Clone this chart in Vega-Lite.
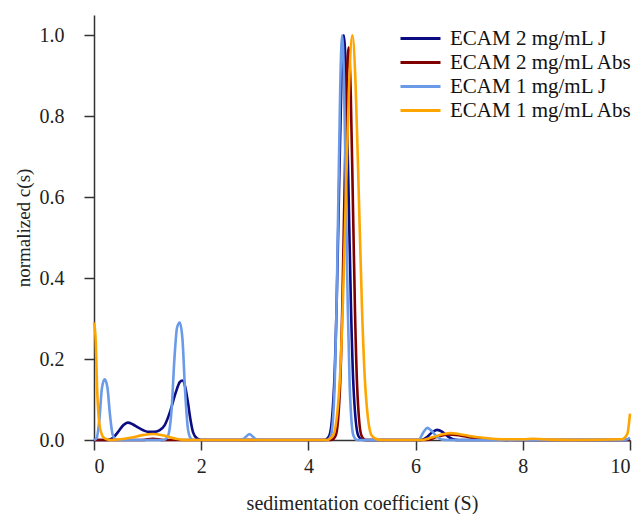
{
  "$schema": "https://vega.github.io/schema/vega-lite/v6.json",
  "autosize": "none",
  "width": 536,
  "height": 425,
  "padding": {"left": 94, "top": 15, "right": 8, "bottom": 74},
  "background": "white",
  "config": {
    "view": {"stroke": null},
    "font": "Liberation Serif"
  },
  "data": {"values": [
    {"s":0,"c":0,"k":"ECAM 2 mg/mL J"},{"s":0.25,"c":0,"k":"ECAM 2 mg/mL J"},{"s":0.35,"c":0.005,"k":"ECAM 2 mg/mL J"},{"s":0.45,"c":0.02,"k":"ECAM 2 mg/mL J"},{"s":0.55,"c":0.037,"k":"ECAM 2 mg/mL J"},{"s":0.63,"c":0.043,"k":"ECAM 2 mg/mL J"},{"s":0.72,"c":0.039,"k":"ECAM 2 mg/mL J"},{"s":0.82,"c":0.031,"k":"ECAM 2 mg/mL J"},{"s":0.92,"c":0.024,"k":"ECAM 2 mg/mL J"},{"s":1.02,"c":0.02,"k":"ECAM 2 mg/mL J"},{"s":1.12,"c":0.02,"k":"ECAM 2 mg/mL J"},{"s":1.22,"c":0.024,"k":"ECAM 2 mg/mL J"},{"s":1.32,"c":0.037,"k":"ECAM 2 mg/mL J"},{"s":1.42,"c":0.07,"k":"ECAM 2 mg/mL J"},{"s":1.52,"c":0.115,"k":"ECAM 2 mg/mL J"},{"s":1.6,"c":0.143,"k":"ECAM 2 mg/mL J"},{"s":1.65,"c":0.147,"k":"ECAM 2 mg/mL J"},{"s":1.7,"c":0.132,"k":"ECAM 2 mg/mL J"},{"s":1.75,"c":0.095,"k":"ECAM 2 mg/mL J"},{"s":1.8,"c":0.05,"k":"ECAM 2 mg/mL J"},{"s":1.85,"c":0.018,"k":"ECAM 2 mg/mL J"},{"s":1.92,"c":0.004,"k":"ECAM 2 mg/mL J"},{"s":2.0,"c":0,"k":"ECAM 2 mg/mL J"},{"s":4.3,"c":0,"k":"ECAM 2 mg/mL J"},{"s":4.39,"c":0.011,"k":"ECAM 2 mg/mL J"},{"s":4.48,"c":0.135,"k":"ECAM 2 mg/mL J"},{"s":4.525,"c":0.325,"k":"ECAM 2 mg/mL J"},{"s":4.57,"c":0.607,"k":"ECAM 2 mg/mL J"},{"s":4.615,"c":0.88,"k":"ECAM 2 mg/mL J"},{"s":4.66,"c":1.0,"k":"ECAM 2 mg/mL J"},{"s":4.705,"c":0.88,"k":"ECAM 2 mg/mL J"},{"s":4.75,"c":0.607,"k":"ECAM 2 mg/mL J"},{"s":4.795,"c":0.325,"k":"ECAM 2 mg/mL J"},{"s":4.84,"c":0.135,"k":"ECAM 2 mg/mL J"},{"s":4.93,"c":0.011,"k":"ECAM 2 mg/mL J"},{"s":5.02,"c":0,"k":"ECAM 2 mg/mL J"},{"s":6.1,"c":0,"k":"ECAM 2 mg/mL J"},{"s":6.2,"c":0.006,"k":"ECAM 2 mg/mL J"},{"s":6.3,"c":0.018,"k":"ECAM 2 mg/mL J"},{"s":6.4,"c":0.025,"k":"ECAM 2 mg/mL J"},{"s":6.5,"c":0.02,"k":"ECAM 2 mg/mL J"},{"s":6.6,"c":0.009,"k":"ECAM 2 mg/mL J"},{"s":6.7,"c":0.002,"k":"ECAM 2 mg/mL J"},{"s":6.8,"c":0,"k":"ECAM 2 mg/mL J"},{"s":10,"c":0,"k":"ECAM 2 mg/mL J"},

    {"s":0,"c":0,"k":"ECAM 2 mg/mL Abs"},{"s":0.9,"c":0,"k":"ECAM 2 mg/mL Abs"},{"s":1.1,"c":0.003,"k":"ECAM 2 mg/mL Abs"},{"s":1.3,"c":0,"k":"ECAM 2 mg/mL Abs"},{"s":4.43,"c":0,"k":"ECAM 2 mg/mL Abs"},{"s":4.51,"c":0.011,"k":"ECAM 2 mg/mL Abs"},{"s":4.59,"c":0.131,"k":"ECAM 2 mg/mL Abs"},{"s":4.63,"c":0.315,"k":"ECAM 2 mg/mL Abs"},{"s":4.67,"c":0.588,"k":"ECAM 2 mg/mL Abs"},{"s":4.71,"c":0.856,"k":"ECAM 2 mg/mL Abs"},{"s":4.75,"c":0.97,"k":"ECAM 2 mg/mL Abs"},{"s":4.79,"c":0.856,"k":"ECAM 2 mg/mL Abs"},{"s":4.83,"c":0.588,"k":"ECAM 2 mg/mL Abs"},{"s":4.87,"c":0.315,"k":"ECAM 2 mg/mL Abs"},{"s":4.91,"c":0.131,"k":"ECAM 2 mg/mL Abs"},{"s":4.99,"c":0.011,"k":"ECAM 2 mg/mL Abs"},{"s":5.07,"c":0,"k":"ECAM 2 mg/mL Abs"},{"s":6.2,"c":0,"k":"ECAM 2 mg/mL Abs"},{"s":6.4,"c":0.008,"k":"ECAM 2 mg/mL Abs"},{"s":6.6,"c":0.014,"k":"ECAM 2 mg/mL Abs"},{"s":6.8,"c":0.012,"k":"ECAM 2 mg/mL Abs"},{"s":7.0,"c":0.007,"k":"ECAM 2 mg/mL Abs"},{"s":7.3,"c":0.003,"k":"ECAM 2 mg/mL Abs"},{"s":7.6,"c":0.001,"k":"ECAM 2 mg/mL Abs"},{"s":8.0,"c":0,"k":"ECAM 2 mg/mL Abs"},{"s":10,"c":0,"k":"ECAM 2 mg/mL Abs"},

    {"s":0,"c":0,"k":"ECAM 1 mg/mL J"},{"s":0.05,"c":0.005,"k":"ECAM 1 mg/mL J"},{"s":0.1,"c":0.05,"k":"ECAM 1 mg/mL J"},{"s":0.15,"c":0.13,"k":"ECAM 1 mg/mL J"},{"s":0.2,"c":0.15,"k":"ECAM 1 mg/mL J"},{"s":0.25,"c":0.13,"k":"ECAM 1 mg/mL J"},{"s":0.3,"c":0.06,"k":"ECAM 1 mg/mL J"},{"s":0.35,"c":0.012,"k":"ECAM 1 mg/mL J"},{"s":0.42,"c":0,"k":"ECAM 1 mg/mL J"},{"s":1.3,"c":0,"k":"ECAM 1 mg/mL J"},{"s":1.38,"c":0.01,"k":"ECAM 1 mg/mL J"},{"s":1.45,"c":0.08,"k":"ECAM 1 mg/mL J"},{"s":1.5,"c":0.2,"k":"ECAM 1 mg/mL J"},{"s":1.55,"c":0.278,"k":"ECAM 1 mg/mL J"},{"s":1.6,"c":0.29,"k":"ECAM 1 mg/mL J"},{"s":1.65,"c":0.25,"k":"ECAM 1 mg/mL J"},{"s":1.7,"c":0.12,"k":"ECAM 1 mg/mL J"},{"s":1.75,"c":0.03,"k":"ECAM 1 mg/mL J"},{"s":1.8,"c":0.005,"k":"ECAM 1 mg/mL J"},{"s":1.86,"c":0,"k":"ECAM 1 mg/mL J"},{"s":2.75,"c":0,"k":"ECAM 1 mg/mL J"},{"s":2.85,"c":0.01,"k":"ECAM 1 mg/mL J"},{"s":2.9,"c":0.015,"k":"ECAM 1 mg/mL J"},{"s":2.95,"c":0.01,"k":"ECAM 1 mg/mL J"},{"s":3.05,"c":0,"k":"ECAM 1 mg/mL J"},{"s":4.35,"c":0,"k":"ECAM 1 mg/mL J"},{"s":4.42,"c":0.011,"k":"ECAM 1 mg/mL J"},{"s":4.49,"c":0.135,"k":"ECAM 1 mg/mL J"},{"s":4.525,"c":0.325,"k":"ECAM 1 mg/mL J"},{"s":4.56,"c":0.607,"k":"ECAM 1 mg/mL J"},{"s":4.595,"c":0.88,"k":"ECAM 1 mg/mL J"},{"s":4.63,"c":1.0,"k":"ECAM 1 mg/mL J"},{"s":4.665,"c":0.88,"k":"ECAM 1 mg/mL J"},{"s":4.7,"c":0.607,"k":"ECAM 1 mg/mL J"},{"s":4.735,"c":0.325,"k":"ECAM 1 mg/mL J"},{"s":4.77,"c":0.135,"k":"ECAM 1 mg/mL J"},{"s":4.84,"c":0.011,"k":"ECAM 1 mg/mL J"},{"s":4.91,"c":0,"k":"ECAM 1 mg/mL J"},{"s":6.05,"c":0,"k":"ECAM 1 mg/mL J"},{"s":6.15,"c":0.02,"k":"ECAM 1 mg/mL J"},{"s":6.22,"c":0.03,"k":"ECAM 1 mg/mL J"},{"s":6.3,"c":0.022,"k":"ECAM 1 mg/mL J"},{"s":6.4,"c":0.008,"k":"ECAM 1 mg/mL J"},{"s":6.5,"c":0.001,"k":"ECAM 1 mg/mL J"},{"s":6.6,"c":0,"k":"ECAM 1 mg/mL J"},{"s":9.9,"c":0,"k":"ECAM 1 mg/mL J"},{"s":10,"c":0.005,"k":"ECAM 1 mg/mL J"},

    {"s":0,"c":0.29,"k":"ECAM 1 mg/mL Abs"},{"s":0.03,"c":0.25,"k":"ECAM 1 mg/mL Abs"},{"s":0.06,"c":0.12,"k":"ECAM 1 mg/mL Abs"},{"s":0.1,"c":0.04,"k":"ECAM 1 mg/mL Abs"},{"s":0.15,"c":0.012,"k":"ECAM 1 mg/mL Abs"},{"s":0.2,"c":0.004,"k":"ECAM 1 mg/mL Abs"},{"s":0.3,"c":0,"k":"ECAM 1 mg/mL Abs"},{"s":0.5,"c":0.002,"k":"ECAM 1 mg/mL Abs"},{"s":0.7,"c":0.006,"k":"ECAM 1 mg/mL Abs"},{"s":0.9,"c":0.012,"k":"ECAM 1 mg/mL Abs"},{"s":1.1,"c":0.015,"k":"ECAM 1 mg/mL Abs"},{"s":1.3,"c":0.011,"k":"ECAM 1 mg/mL Abs"},{"s":1.5,"c":0.004,"k":"ECAM 1 mg/mL Abs"},{"s":1.7,"c":0,"k":"ECAM 1 mg/mL Abs"},{"s":4.34,"c":0,"k":"ECAM 1 mg/mL Abs"},{"s":4.46,"c":0.011,"k":"ECAM 1 mg/mL Abs"},{"s":4.58,"c":0.135,"k":"ECAM 1 mg/mL Abs"},{"s":4.64,"c":0.325,"k":"ECAM 1 mg/mL Abs"},{"s":4.7,"c":0.607,"k":"ECAM 1 mg/mL Abs"},{"s":4.76,"c":0.88,"k":"ECAM 1 mg/mL Abs"},{"s":4.82,"c":1.0,"k":"ECAM 1 mg/mL Abs"},{"s":4.88,"c":0.88,"k":"ECAM 1 mg/mL Abs"},{"s":4.94,"c":0.607,"k":"ECAM 1 mg/mL Abs"},{"s":5.0,"c":0.325,"k":"ECAM 1 mg/mL Abs"},{"s":5.06,"c":0.135,"k":"ECAM 1 mg/mL Abs"},{"s":5.18,"c":0.011,"k":"ECAM 1 mg/mL Abs"},{"s":5.3,"c":0.001,"k":"ECAM 1 mg/mL Abs"},{"s":5.4,"c":0,"k":"ECAM 1 mg/mL Abs"},{"s":6.1,"c":0,"k":"ECAM 1 mg/mL Abs"},{"s":6.3,"c":0.006,"k":"ECAM 1 mg/mL Abs"},{"s":6.5,"c":0.014,"k":"ECAM 1 mg/mL Abs"},{"s":6.65,"c":0.017,"k":"ECAM 1 mg/mL Abs"},{"s":6.8,"c":0.015,"k":"ECAM 1 mg/mL Abs"},{"s":7.0,"c":0.01,"k":"ECAM 1 mg/mL Abs"},{"s":7.3,"c":0.005,"k":"ECAM 1 mg/mL Abs"},{"s":7.6,"c":0.002,"k":"ECAM 1 mg/mL Abs"},{"s":8.0,"c":0.002,"k":"ECAM 1 mg/mL Abs"},{"s":8.2,"c":0.003,"k":"ECAM 1 mg/mL Abs"},{"s":8.5,"c":0.001,"k":"ECAM 1 mg/mL Abs"},{"s":9.0,"c":0,"k":"ECAM 1 mg/mL Abs"},{"s":9.85,"c":0.002,"k":"ECAM 1 mg/mL Abs"},{"s":9.95,"c":0.015,"k":"ECAM 1 mg/mL Abs"},{"s":10,"c":0.065,"k":"ECAM 1 mg/mL Abs"}
  ]},
  "mark": {"type": "line", "interpolate": "monotone", "strokeWidth": 2.6, "clip": false},
  "encoding": {
    "x": {"field": "s", "type": "quantitative", "scale": {"domain": [0, 10], "nice": false, "zero": false},
      "axis": {"values": [0, 2, 4, 6, 8, 10], "title": "sedimentation coefficient (S)", "labelPadding": 6, "titlePadding": 17, "format": "d",
        "grid": false, "domainColor": "#333", "domainWidth": 1.5, "tickColor": "#333", "tickWidth": 1.5, "tickSize": 10,
        "labelFont": "Liberation Serif", "labelFontSize": 20, "labelColor": "#222", "titleFont": "Liberation Serif", "titleFontSize": 20, "titleFontWeight": "normal", "titleColor": "#222"}},
    "y": {"field": "c", "type": "quantitative", "scale": {"domain": [0, 1.05], "nice": false},
      "axis": {"values": [0, 0.2, 0.4, 0.6, 0.8, 1.0], "format": ".1f", "title": "normalized c(s)", "labelPadding": 20, "titlePadding": 6,
        "grid": false, "domainColor": "#333", "domainWidth": 1.5, "tickColor": "#333", "tickWidth": 1.5, "tickSize": 10,
        "labelFont": "Liberation Serif", "labelFontSize": 20, "labelColor": "#222", "titleFont": "Liberation Serif", "titleFontSize": 19, "titleFontWeight": "normal", "titleColor": "#222"}},
    "color": {"field": "k", "type": "nominal",
      "scale": {"domain": ["ECAM 2 mg/mL J", "ECAM 2 mg/mL Abs", "ECAM 1 mg/mL J", "ECAM 1 mg/mL Abs"], "range": ["#0c0c82", "#800000", "#6a9ae8", "#ffa500"]},
      "legend": {"title": null, "orient": "none", "legendX": 315, "legendY": 12, "symbolType": "M-2,0H2", "symbolSize": 400, "symbolStrokeWidth": 3,
        "labelFont": "Liberation Serif", "labelFontSize": 21, "labelColor": "#111", "labelOffset": 18, "rowPadding": 2, "labelLimit": 300}}
  }
}
